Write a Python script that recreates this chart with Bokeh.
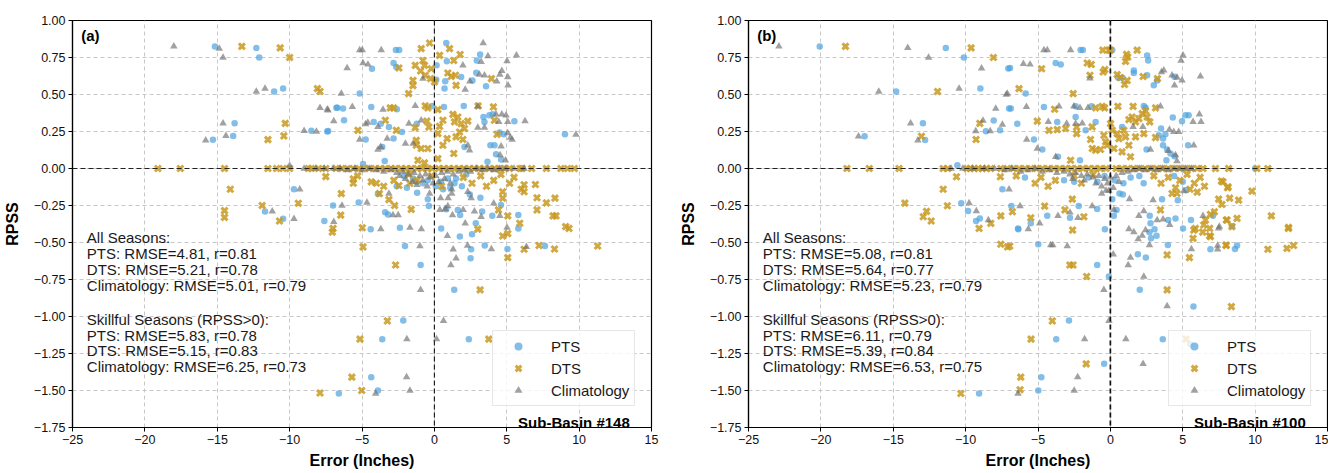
from bokeh.plotting import figure
from bokeh.models import Span, Label, FixedTicker, CustomJSTickFormatter
from bokeh.layouts import row
from bokeh.embed import file_html
from bokeh.resources import INLINE

FONT = "Liberation Sans"
X_TICKS = [-25, -20, -15, -10, -5, 0, 5, 10, 15]
Y_TICKS = [-1.75, -1.5, -1.25, -1.0, -0.75, -0.5, -0.25, 0.0, 0.25, 0.5, 0.75, 1.0]
SERIES = ["PTS", "DTS", "Climatology"]
COLORS = {"PTS": "#4ea3e0", "DTS": "#c99a22", "Climatology": "#6e6e6e"}

# ---------------- Panel (a): Sub-Basin #148 ----------------
PTS_A = [(-15.16, 0.825), (-12.3, 0.815), (-12.1, 0.75), (-11.07, 0.52), (-10.45, 0.54), (-6.77, 0.41),
         (-13.8, 0.305), (-15.3, 0.195), (-13.9, 0.22), (-8.5, 0.255), (-7.4, 0.25),
         (-2.66, 0.80), (-2.43, 0.80), (0.82, 0.848), (3.16, 0.77), (0.86, 0.724), (0.15, 0.697), (0.13, 0.60),
         (0.75, 0.589), (1.85, 0.618), (0.7, 0.54), (2.63, 0.595), (2.89, 0.647), (2.93, 0.73), (3.57, 0.555),
         (-4.31, 0.674), (-2.82, 0.713), (-2.63, 0.686), (-5.16, 0.506), (-6.7, 0.41), (-6.31, 0.405),
         (-4.36, 0.416), (-2.59, 0.40), (-0.15, 0.423), (0.66, 0.416), (2.03, 0.423), (-6.24, 0.326),
         (-4.75, 0.196), (-4.19, 0.315), (-3.71, 0.303), (-3.14, 0.281), (-2.82, 0.202), (-2.24, 0.247),
         (-1.21, 0.303), (2.08, 0.146), (3.39, 0.348), (3.46, 0.315), (3.8, 0.36), (4.03, 0.366), (5.53, 0.32),
         (4.5, 0.243), (4.79, 0.231), (3.87, 0.157), (4.15, 0.157), (4.26, 0.096), (4.61, 0.06), (3.67, 0.045),
         (9.02, 0.231), (-3.6, 0.146), (-3.43, 0.05), (-4.93, 0.03), (-7.34, 0.254),
         (-1.25, -0.09), (-0.79, -0.1), (-1.48, -0.067), (0.47, -0.09), (0.93, -0.067), (1.5, -0.067),
         (1.39, -0.1), (-0.45, -0.079), (-2.1, -0.05), (2.2, -0.04), (-2.6, -0.12), (-1.9, -0.13),
         (0.1, -0.12), (0.6, -0.14), (1.1, -0.13), (1.9, -0.12),
         (-1.19, -0.164), (-0.45, -0.207), (-0.38, -0.254), (0.82, -0.275), (1.62, -0.28), (1.78, -0.315),
         (3.3, -0.29), (2.86, -0.37), (3.18, -0.198), (2.45, -0.175), (4.6, -0.247), (4.0, -0.32),
         (5.8, -0.315), (5.8, -0.405), (-5.23, -0.23), (-4.4, -0.41), (-3.9, -0.17), (-3.4, -0.295),
         (-3.2, -0.31), (-2.38, -0.40), (-7.0, -0.25), (-9.7, -0.14), (-11.7, -0.29), (-10.45, -0.34),
         (-7.6, -0.355), (0.47, -0.405), (1.76, -0.46), (2.6, -0.445), (-2.03, -0.524), (2.54, -0.546),
         (3.48, -0.52), (5.05, -0.544), (7.64, -0.524), (-0.95, -0.652), (2.5, -0.607), (1.37, -0.82),
         (-2.15, -1.027), (-3.6, -1.153), (2.38, -1.153), (-4.36, -1.41), (-6.6, -1.52), (-3.9, -1.5)]

DTS_A = [(-13.3, 0.825), (-10.65, 0.815), (-10.0, 0.75), (-8.08, 0.54), (-7.9, 0.52), (-10.3, 0.305),
         (-11.5, 0.195), (-10.4, 0.22),
         (-0.91, 0.81), (-0.33, 0.848), (1.05, 0.81), (1.78, 0.77), (1.34, 0.73), (0.36, 0.764), (-0.79, 0.73),
         (-0.68, 0.697), (-1.32, 0.697), (-0.95, 0.659), (-0.63, 0.63), (-1.48, 0.595), (-1.48, 0.56),
         (-1.78, 0.506), (-0.26, 0.607), (0.01, 0.585), (-0.22, 0.674), (0.93, 0.645), (1.16, 0.622),
         (1.46, 0.63), (1.5, 0.562), (3.94, 0.607), (-2.45, 0.679), (-3.05, 0.41), (-2.82, 0.41),
         (-0.63, 0.423), (-0.45, 0.41), (0.24, 0.398), (3.02, 0.423), (4.08, 0.416), (-5.28, 0.258),
         (-3.39, 0.326), (-2.63, 0.258), (-1.32, 0.276), (-0.52, 0.32), (-0.38, 0.28), (-1.25, 0.19),
         (-1.25, 0.157), (-0.91, 0.135), (-0.45, 0.135), (-1.14, 0.056), (-0.68, 0.038), (0.24, 0.067),
         (0.24, 0.236), (0.36, 0.285), (0.59, 0.326), (0.88, 0.202), (0.59, 0.157), (1.34, 0.101),
         (1.28, 0.366), (1.62, 0.348), (1.39, 0.315), (1.85, 0.303), (2.08, 0.27), (2.31, 0.32), (1.74, 0.247),
         (1.5, 0.214), (1.97, 0.196), (4.15, 0.326), (4.33, 0.231),
         (-19.1, 0.0), (-17.55, 0.0), (-14.5, 0.0), (-11.5, 0.0), (-10.9, 0.0), (-10.45, 0.0), (-10.0, 0.0),
         (-8.7, 0.0), (-8.5, 0.0), (-8.0, 0.0), (-7.5, 0.0), (-6.8, 0.0), (-6.4, 0.0), (-6.0, 0.0), (-5.6, 0.0),
         (-5.2, 0.0), (-4.85, 0.0), (-4.5, 0.0), (-4.1, 0.0), (-3.75, 0.0), (-3.4, 0.0), (-3.0, 0.0),
         (-2.7, 0.0), (-2.3, 0.0), (-1.95, 0.0), (-1.6, 0.0), (-1.2, 0.0), (-0.85, 0.0), (-0.5, 0.0),
         (-0.15, 0.0), (0.3, 0.0), (0.65, 0.0), (1.0, 0.0), (1.35, 0.0), (1.7, 0.0), (2.05, 0.0), (2.4, 0.0),
         (2.75, 0.0), (3.1, 0.0), (3.45, 0.0), (3.8, 0.0), (4.15, 0.0), (4.5, 0.0), (4.85, 0.0), (5.2, 0.0),
         (5.92, 0.0), (6.06, 0.0), (6.72, 0.0), (7.74, 0.0), (8.74, 0.0), (9.2, 0.0), (9.67, 0.0),
         (-14.1, -0.14), (-7.5, -0.055), (-14.5, -0.285), (-14.5, -0.33), (-11.9, -0.25), (-10.7, -0.355),
         (-9.4, -0.235), (-7.0, -0.405), (-7.9, -1.517), (-6.43, -0.17), (-6.47, -0.315), (-7.05, -0.43),
         (-4.98, -0.4), (-4.93, -0.53), (-3.14, -0.21), (-2.75, -0.25), (-1.6, -0.276), (-2.68, -0.652),
         (3.0, -0.41), (4.72, -0.157), (4.72, -0.2), (4.43, -0.28), (5.07, -0.32), (5.9, -0.37),
         (4.72, -0.456), (5.07, -0.44), (5.07, -0.602), (6.2, -0.546), (7.23, -0.52), (8.3, -0.544),
         (11.28, -0.524), (9.3, -0.405), (6.98, -0.108), (7.09, -0.198), (7.09, -0.28), (7.74, -0.232),
         (8.33, -0.2), (8.2, -0.32), (8.4, -0.32), (9.07, -0.393), (6.2, -0.157), (6.0, -0.14), (6.2, -0.11),
         (-5.6, -0.07), (-5.6, -0.1), (-5.3, -0.05), (-4.36, -0.09), (-4.0, -0.1), (-3.5, -0.12),
         (-3.8, -0.17), (-1.76, -0.04), (-1.2, -0.08), (-1.7, -0.1), (-2.45, -0.115), (-2.8, -0.08),
         (2.0, -0.06), (2.6, -0.1), (3.2, -0.05), (3.6, -0.12), (4.1, -0.08), (4.6, -0.04), (5.2, -0.1),
         (5.5, -0.06), (-0.2, -0.05), (0.5, -0.12), (3.16, -0.82), (-3.25, -1.03), (-5.14, -1.153),
         (3.76, -1.153), (-5.7, -1.41), (-5.02, -1.5)]

CLIM_A = [(-18.0, 0.825), (-14.86, 0.81), (-14.6, 0.75), (-12.3, 0.52), (-11.7, 0.54), (-7.9, 0.41),
          (-7.4, 0.40), (-6.95, 0.32), (-14.6, 0.305), (-15.8, 0.19), (-14.4, 0.22), (-9.0, 0.255),
          (-8.15, 0.25), (-10.0, 0.02),
          (-5.16, 0.80), (-4.98, 0.80), (-3.67, 0.80), (3.37, 0.848), (3.7, 0.76), (5.67, 0.764), (1.97, 0.697),
          (-0.79, 0.607), (2.13, 0.533), (2.45, 0.589), (3.11, 0.634), (3.23, 0.72), (3.46, 0.63), (4.31, 0.589),
          (4.52, 0.634), (4.66, 0.66), (5.07, 0.618), (5.09, 0.562), (5.02, 0.726), (-6.03, 0.679),
          (-4.93, 0.713), (-4.59, 0.703), (-6.43, 0.506), (-7.35, 0.393), (-5.67, 0.416), (-3.55, 0.398),
          (-1.32, 0.423), (3.0, 0.42), (-5.16, 0.196), (-4.75, 0.30), (-4.6, 0.31), (-3.9, 0.281),
          (-3.26, 0.202), (-1.76, 0.303), (-0.91, 0.326), (-2.0, 0.169), (-1.47, 0.169), (2.31, 0.157),
          (2.43, 0.123), (3.0, 0.276), (3.46, 0.276), (4.26, 0.366), (4.66, 0.366), (4.95, 0.36), (4.45, 0.315),
          (5.07, 0.315), (6.26, 0.32), (5.07, 0.24), (5.25, 0.209), (5.37, 0.196), (4.61, 0.15), (4.54, 0.09),
          (4.91, 0.056), (9.78, 0.229), (-3.9, 0.128), (-3.71, 0.146),
          (-9.0, 0.0), (-8.2, 0.0), (-7.6, 0.0), (-7.0, 0.0), (-6.5, 0.0), (-6.0, -0.01), (-5.5, 0.0),
          (-5.0, -0.01), (-4.5, 0.0), (-4.0, -0.01), (-3.5, -0.02), (-3.0, -0.01), (-2.6, -0.03), (-2.2, -0.02),
          (-1.8, -0.04), (-1.4, -0.03), (-1.0, -0.05), (-0.6, -0.04), (-0.3, -0.06), (0.1, -0.05), (0.5, -0.03),
          (0.9, -0.02), (1.3, -0.04), (1.7, -0.02), (2.1, -0.01), (2.5, -0.02), (2.9, 0.0), (3.3, -0.01),
          (3.7, 0.0), (4.1, -0.01), (4.5, 0.0), (4.9, 0.0), (-2.0, -0.07), (-1.5, -0.09), (-1.2, -0.11),
          (-0.8, -0.08), (-0.5, -0.12), (-0.1, -0.1), (0.3, -0.09), (0.7, -0.07), (1.1, -0.1), (-2.4, -0.05),
          (5.5, 0.0), (6.2, 0.0),
          (-9.3, -0.14), (-11.2, -0.29), (-9.7, -0.34), (-6.95, -0.36), (-6.38, -0.25), (-4.66, -0.23),
          (-3.7, -0.41), (-3.14, -0.17), (-2.86, -0.315), (-2.5, -0.315), (-1.69, -0.40), (-0.9, -0.41),
          (-1.0, -0.524), (-0.33, -0.17), (0.38, -0.28), (0.75, -0.275), (0.93, -0.254), (0.43, -0.2),
          (0.95, -0.2), (1.2, -0.17), (1.2, -0.14), (1.25, -0.315), (1.99, -0.28), (2.13, -0.37), (0.9, -0.455),
          (2.77, -0.29), (3.23, -0.326), (2.54, -0.2), (2.31, -0.157), (4.1, -0.236), (4.52, -0.32),
          (5.02, -0.40), (3.94, -0.544), (2.29, -0.52), (1.3, -0.546), (1.5, -0.607), (1.14, -0.652),
          (6.36, -0.53), (-0.95, -0.82), (0.63, -1.03), (-1.9, -1.153), (0.15, -1.153), (-1.92, -1.41),
          (-4.06, -1.52), (-1.69, -1.5)]

STATS_A = ["All Seasons:", "PTS: RMSE=4.81, r=0.81", "DTS: RMSE=5.21, r=0.78",
           "Climatology: RMSE=5.01, r=0.79", "Skillful Seasons (RPSS>0):", "PTS: RMSE=5.83, r=0.78",
           "DTS: RMSE=5.15, r=0.83", "Climatology: RMSE=6.25, r=0.73"]

# ---------------- Panel (b): Sub-Basin #100 ----------------
PTS_B = [(-20.08, 0.825), (-11.37, 0.815), (-10.12, 0.75), (-7.05, 0.676), (-14.8, 0.52), (-8.98, 0.54),
         (-7.0, 0.405), (-12.95, 0.305), (-8.06, 0.324), (-16.98, 0.218), (-12.8, 0.193), (-8.6, 0.252),
         (-7.62, 0.258), (-10.57, 0.022),
         (-2.06, 0.80), (-1.9, 0.80), (0.13, 0.80), (2.54, 0.764), (2.61, 0.73), (-6.93, 0.679), (-3.78, 0.713),
         (-3.43, 0.703), (0.54, 0.614), (0.82, 0.614), (1.62, 0.663), (1.62, 0.645), (2.54, 0.63), (3.0, 0.562),
         (3.23, 0.595), (4.43, 0.62), (-5.85, 0.506), (-6.88, 0.405), (-4.59, 0.416), (-2.4, 0.42),
         (-1.3, 0.42), (2.31, 0.423), (2.43, 0.41), (-6.43, 0.303), (-3.67, 0.315), (-2.4, 0.348),
         (-1.71, 0.258), (-1.02, 0.315), (-5.28, 0.196), (-4.7, 0.128), (-3.62, 0.079), (-2.1, 0.056),
         (0.81, 0.281), (3.5, 0.27), (3.8, 0.231), (3.34, 0.225), (3.64, 0.202), (4.31, 0.344), (4.95, 0.32),
         (5.19, 0.36), (5.41, 0.36), (5.37, 0.157), (3.64, 0.157), (3.92, 0.128), (4.15, 0.101), (4.43, 0.083),
         (2.5, 0.128), (3.87, 0.056), (10.0, 0.0),
         (-7.46, -0.14), (-1.5, -0.06), (-0.9, -0.09), (-0.4, -0.05), (0.3, -0.08), (0.9, -0.1), (1.4, -0.06),
         (2.0, -0.05), (2.3, -0.1), (-2.5, -0.09), (-3.2, -0.08), (-5.9, -0.06), (4.4, -0.05), (5.0, -0.09),
         (-10.3, -0.234), (-9.83, -0.288), (-9.28, -0.355), (-9.02, -0.337), (-6.36, -0.41), (-4.98, -0.512),
         (-0.38, -0.41), (2.7, -0.43), (3.05, -0.41), (3.19, -0.454), (2.81, -0.472), (1.9, -0.58),
         (2.45, -0.602), (3.97, -0.517), (6.91, -0.546), (8.61, -0.544), (8.75, -0.52), (-0.91, -0.652),
         (-0.1, -0.73), (2.03, -0.82), (5.74, -0.933), (-2.86, -1.027), (-3.74, -1.153), (3.62, -1.153),
         (5.53, -1.187), (-0.43, -1.32), (-4.77, -1.41), (-4.98, -1.5), (-9.07, -1.52), (-6.84, -0.254),
         (-5.5, -0.37), (-4.36, -0.32), (-2.79, -0.333), (-2.19, -0.254), (-0.91, -0.274), (0.13, -0.207),
         (0.43, -0.28), (0.24, -0.32), (0.63, -0.169), (0.86, -0.175), (2.72, -0.32), (3.57, -0.207),
         (4.66, -0.214), (3.99, -0.348), (4.5, -0.337), (2.77, -0.37), (5.02, -0.405), (5.25, -0.146),
         (5.57, -0.348), (7.09, -0.32), (8.4, -0.39), (-6.38, -0.405)]

DTS_B = [(-18.3, 0.825), (-9.62, 0.815), (-8.08, 0.75), (-11.94, 0.52), (-9.02, 0.305), (-13.05, 0.218),
         (-9.28, 0.196),
         (-18.2, 0.0), (-16.66, 0.0), (-14.6, 0.0), (-11.55, 0.0), (-11.23, 0.0), (-9.92, 0.0), (-9.69, 0.0),
         (-9.41, 0.0), (-9.12, 0.0), (-8.84, 0.0), (-8.57, 0.0), (-8.26, 0.0), (-7.57, 0.0), (-7.12, 0.0),
         (-6.7, 0.0), (-6.3, 0.0), (-5.9, 0.0), (-5.5, 0.0), (-5.1, 0.0), (-4.7, 0.0), (-4.3, 0.0), (-3.9, 0.0),
         (-3.5, 0.0), (-3.1, 0.0), (-2.7, 0.0), (-2.3, 0.0), (-1.9, 0.0), (-1.5, 0.0), (-1.1, 0.0), (-0.7, 0.0),
         (-0.3, 0.0), (0.4, 0.0), (0.8, 0.0), (1.2, 0.0), (1.6, 0.0), (2.0, 0.0), (2.4, 0.0), (2.8, 0.0),
         (3.2, 0.0), (3.6, 0.0), (4.0, 0.0), (4.4, 0.0), (4.8, 0.0), (5.2, 0.0), (5.6, 0.0), (6.0, 0.0),
         (6.4, 0.0), (7.26, 0.0), (8.17, 0.0), (10.12, 0.0), (10.88, 0.0),
         (-0.52, 0.80), (-0.1, 0.80), (0.0, 0.80), (1.85, 0.80), (1.12, 0.771), (1.2, 0.753), (1.05, 0.724),
         (-4.75, 0.674), (-1.6, 0.713), (-1.32, 0.703), (-1.41, 0.63), (-0.5, 0.652), (-0.38, 0.668),
         (0.47, 0.634), (0.7, 0.614), (0.98, 0.568), (1.16, 0.595), (2.26, 0.622), (3.25, 0.607),
         (-6.31, 0.54), (-2.57, 0.506), (-3.85, 0.40), (-1.02, 0.41), (-0.57, 0.42), (-0.4, 0.41), (0.52, 0.42),
         (1.57, 0.42), (3.12, 0.41), (-5.05, 0.32), (-1.26, 0.281), (-4.24, 0.258), (-3.67, 0.263),
         (-3.09, 0.27), (-2.33, 0.28), (-2.33, 0.236), (-1.37, 0.196), (-1.25, 0.135), (-1.02, 0.123),
         (-0.68, 0.128), (-0.45, 0.225), (-0.33, 0.18), (-0.22, 0.157), (0.13, 0.258), (0.01, 0.303),
         (-2.75, 0.056), (0.24, 0.135), (0.47, 0.236), (0.81, 0.112), (0.59, 0.202), (1.28, 0.157),
         (1.39, 0.079), (1.28, 0.33), (1.5, 0.348), (1.74, 0.315), (1.97, 0.337), (2.2, 0.371), (2.43, 0.389),
         (2.54, 0.348), (2.72, 0.315), (0.93, 0.258), (1.05, 0.214), (1.74, 0.214), (2.31, 0.236),
         (3.12, 0.209),
         (-10.63, -0.056), (-7.6, -0.056), (-11.55, -0.14), (-14.2, -0.234), (-11.26, -0.252),
         (-12.93, -0.326), (-12.7, -0.29), (-12.38, -0.355), (-8.26, -0.371), (-9.07, -0.405), (-7.57, -0.32),
         (-7.57, -0.512), (-7.1, -0.53), (-10.33, -1.52), (-2.61, -0.416), (5.76, -0.416), (6.38, -0.43),
         (6.86, -0.454), (5.71, -0.472), (12.3, -0.405), (-6.95, -0.524), (3.92, -0.584), (5.46, -0.602),
         (7.99, -0.517), (10.88, -0.546), (12.2, -0.54), (12.66, -0.52), (-2.8, -0.652), (-2.58, -0.652),
         (-1.64, -0.73), (3.92, -0.82), (8.36, -0.933), (-4.01, -1.03), (-5.48, -1.153), (5.23, -1.153),
         (-1.67, -1.32), (-6.19, -1.41), (-6.24, -1.495), (7.48, -0.207), (7.71, -0.243), (8.1, -0.13),
         (7.78, -0.09), (8.24, -0.2), (8.86, -0.214), (7.19, -0.292), (6.91, -0.31), (6.57, -0.348),
         (6.45, -0.382), (6.86, -0.405), (6.91, -0.46), (5.87, -0.405), (8.01, -0.348), (8.4, -0.393),
         (8.0, -0.52), (-5.5, -0.333), (-1.83, -0.326), (-3.14, -0.28), (-2.63, -0.207), (-4.54, -0.254),
         (-6.77, -0.292), (3.46, -0.28), (4.26, -0.169), (4.6, -0.169), (4.5, -0.13), (9.78, -0.153),
         (11.12, -0.32), (12.31, -0.398), (8.75, -0.337), (8.06, -0.348), (7.67, -0.085), (8.13, -0.124),
         (-6.5, -0.05), (-5.2, -0.1), (-4.8, -0.06), (-4.3, -0.12), (-3.8, -0.08), (-2.5, -0.05), (-2.0, -0.1),
         (-1.2, -0.04), (3.0, -0.05), (3.5, -0.1), (4.0, -0.06), (4.8, -0.08), (5.3, -0.04), (5.8, -0.1),
         (6.2, -0.06), (6.5, -0.12), (5.5, -0.14), (6.0, -0.16)]

CLIM_B = [(-22.9, 0.825), (-14.0, 0.815), (-12.56, 0.75), (-8.9, 0.676), (-16.0, 0.52), (-10.45, 0.54),
          (-7.19, 0.5), (-7.92, 0.405), (-13.8, 0.305), (-8.8, 0.324), (-7.46, 0.297), (-17.4, 0.218),
          (-13.3, 0.19), (-9.3, 0.252), (-8.3, 0.252),
          (-4.59, 0.80), (-4.36, 0.80), (-2.75, 0.80), (5.02, 0.764), (4.88, 0.73), (-6.01, 0.708),
          (-5.55, 0.703), (-1.41, 0.61), (3.53, 0.652), (3.69, 0.663), (4.26, 0.63), (4.61, 0.614),
          (4.95, 0.595), (4.43, 0.562), (6.22, 0.622), (-7.12, 0.506), (-5.8, 0.416), (-3.55, 0.42),
          (-2.52, 0.42), (-2.1, 0.41), (-1.55, 0.41), (3.46, 0.42), (-4.29, 0.315), (-3.02, 0.303),
          (-2.4, 0.303), (-1.94, 0.306), (-5.78, 0.196), (-5.05, 0.135), (-3.78, 0.079), (1.57, 0.281),
          (2.24, 0.281), (4.08, 0.263), (4.38, 0.247), (4.72, 0.247), (5.71, 0.315), (6.15, 0.366),
          (6.26, 0.315), (5.76, 0.157), (2.77, 0.128), (4.0, 0.12), (4.5, 0.09), (4.6, 0.05),
          (-11.0, 0.0), (-10.2, 0.0), (-9.5, 0.0), (-8.7, 0.0), (-8.0, 0.0), (-7.3, -0.01), (-6.8, 0.0),
          (-6.2, -0.02), (-5.7, -0.01), (-5.2, 0.0), (-4.7, -0.02), (-4.2, -0.01), (-3.7, -0.03), (-3.2, -0.02),
          (-2.8, -0.04), (-2.4, -0.03), (-2.0, -0.05), (-1.6, -0.04), (-1.2, -0.06), (-0.8, -0.05),
          (-0.4, -0.07), (0.0, -0.06), (0.4, -0.05), (0.8, -0.03), (1.2, -0.02), (1.6, -0.01), (2.0, 0.0),
          (2.4, -0.01), (2.8, 0.0), (3.2, -0.01), (3.6, 0.0), (4.0, -0.01), (4.4, 0.0), (4.8, 0.0), (5.2, 0.0),
          (5.6, 0.0), (-1.0, -0.1), (-0.6, -0.12), (-0.2, -0.1), (0.2, -0.13), (0.6, -0.09), (-1.8, -0.08),
          (-2.6, -0.07), (-0.1, -0.15), (-0.3, -0.15), (-0.6, -0.17),
          (-7.0, -0.14), (-9.76, -0.234), (-9.26, -0.288), (-8.43, -0.348), (-5.67, -0.41), (-4.12, -0.517),
          (-3.98, -0.517), (-2.98, -0.524), (1.28, -0.41), (1.62, -0.43), (1.92, -0.477), (2.2, -0.454),
          (0.2, -0.58), (1.39, -0.602), (1.23, -0.652), (2.7, -0.517), (5.6, -0.544), (7.41, -0.52),
          (7.41, -0.546), (7.48, -0.405), (2.31, -0.73), (-0.45, -0.82), (3.92, -0.93), (-0.1, -1.03),
          (-1.78, -1.153), (1.07, -1.153), (2.26, -1.32), (-2.26, -1.41), (-6.38, -1.52), (-2.5, -1.5),
          (-6.24, -0.254), (-4.88, -0.37), (-3.62, -0.32), (-2.24, -0.333), (-2.79, -0.297), (-1.26, -0.254),
          (0.24, -0.28), (1.32, -0.207), (1.97, -0.32), (2.31, -0.288), (2.95, -0.214), (3.64, -0.344),
          (3.23, -0.348), (4.1, -0.38), (2.43, -0.416), (5.07, -0.153), (6.4, -0.32), (7.53, -0.393)]

STATS_B = ["All Seasons:", "PTS: RMSE=5.08, r=0.81", "DTS: RMSE=5.64, r=0.77",
           "Climatology: RMSE=5.23, r=0.79", "Skillful Seasons (RPSS>0):", "PTS: RMSE=6.11, r=0.79",
           "DTS: RMSE=5.39, r=0.84", "Climatology: RMSE=6.53, r=0.75"]

# layout constants (positions in data units)
STATS_Y = [-0.466, -0.575, -0.680, -0.788, -1.020, -1.125, -1.233, -1.337]


def make_panel(tag, basin, pts, dts, clim, stats, left_border, right_border, vline_width):
    p = figure(frame_width=579, frame_height=407, x_range=(-25, 15), y_range=(-1.75, 1.0),
               output_backend="svg", toolbar_location=None,
               min_border_left=left_border, min_border_right=right_border, min_border_top=20,
               min_border_bottom=39)
    p.background_fill_color = "white"
    p.border_fill_color = "white"
    p.outline_line_color = "black"
    p.outline_line_width = 1.2
    p.outline_line_alpha = 1.0

    p.xaxis.ticker = FixedTicker(ticks=X_TICKS)
    p.yaxis.ticker = FixedTicker(ticks=Y_TICKS)
    p.xgrid.ticker = FixedTicker(ticks=X_TICKS)
    p.ygrid.ticker = FixedTicker(ticks=Y_TICKS)
    p.xaxis.formatter = CustomJSTickFormatter(code="return tick.toFixed(0).replace('-', '\u2212');")
    p.yaxis.formatter = CustomJSTickFormatter(code="return tick.toFixed(2).replace('-', '\u2212');")
    p.grid.grid_line_color = "#c8c8c8"
    p.grid.grid_line_dash = "4 3"
    p.grid.grid_line_width = 1

    p.axis.axis_line_color = "black"
    p.axis.axis_line_width = 1.2
    p.axis.major_tick_line_color = "black"
    p.axis.major_tick_out = 4
    p.axis.major_tick_in = 0
    p.axis.minor_tick_out = 0
    p.axis.minor_tick_in = 0
    p.axis.major_label_text_font = FONT
    p.axis.major_label_text_font_size = "12.5px"
    p.axis.major_label_text_color = "#111111"
    p.axis.major_label_standoff = 3
    p.xaxis.axis_label = "Error (Inches)"
    p.yaxis.axis_label = "RPSS"
    p.axis.axis_label_text_font = FONT
    p.axis.axis_label_text_font_style = "bold"
    p.axis.axis_label_text_font_size = "16px"
    p.axis.axis_label_text_color = "black"
    p.xaxis.axis_label_standoff = 5
    p.yaxis.axis_label_standoff = 10

    px, py = zip(*pts)
    dx, dy = zip(*dts)
    cx, cy = zip(*clim)
    p.scatter(list(px), list(py), marker="circle", size=6.5, fill_color=COLORS["PTS"], fill_alpha=0.7,
              line_color=None, legend_label=SERIES[0])
    p.scatter(list(dx), list(dy), marker="x", size=8.5, line_color=COLORS["DTS"], line_alpha=0.85,
              line_width=3.0, legend_label=SERIES[1])
    p.scatter(list(cx), list(cy), marker="triangle", size=7.5, fill_color=COLORS["Climatology"],
              fill_alpha=0.65, line_color=None, legend_label=SERIES[2])

    p.add_layout(Span(location=0, dimension="width", line_color="#222222", line_dash="5 3", line_width=1.1))
    p.add_layout(Span(location=0, dimension="height", line_color="#111111", line_dash="5 3",
                      line_width=vline_width))

    for txt, yy in zip(stats, STATS_Y):
        p.add_layout(Label(x=-24.01, y=yy, text=txt, text_font=FONT, text_font_size="15px",
                           text_baseline="middle", text_align="left", text_color="#1a1a1a"))
    p.add_layout(Label(x=-24.4, y=0.896, text=tag, text_font=FONT, text_font_size="15px",
                       text_font_style="bold", text_baseline="middle", text_align="left", text_color="black"))
    p.add_layout(Label(x=13.5, y=-1.715, text=basin, text_font=FONT, text_font_size="15px",
                       text_font_style="bold", text_baseline="middle", text_align="right", text_color="black"))

    lg = p.legend[0]
    lg.location = (420, 21)
    lg.label_text_font = FONT
    lg.label_text_font_size = "15px"
    lg.label_text_color = "#1a1a1a"
    lg.padding = 5
    lg.spacing = 2
    lg.glyph_width = 40
    lg.glyph_height = 20
    lg.label_standoff = 13
    lg.label_height = 20
    lg.border_line_color = "#d0d0d0"
    lg.border_line_width = 1
    lg.background_fill_color = "white"
    lg.background_fill_alpha = 0.8
    lg.margin = 0
    return p


p1 = make_panel("(a)", "Sub-Basin #148", PTS_A, DTS_A, CLIM_A, STATS_A, 69, 25, 1.1)
p2 = make_panel("(b)", "Sub-Basin #100", PTS_B, DTS_B, CLIM_B, STATS_B, 66, 1, 1.7)

layout = row(p1, p2)
open("out.html", "w").write(file_html(layout, INLINE))
